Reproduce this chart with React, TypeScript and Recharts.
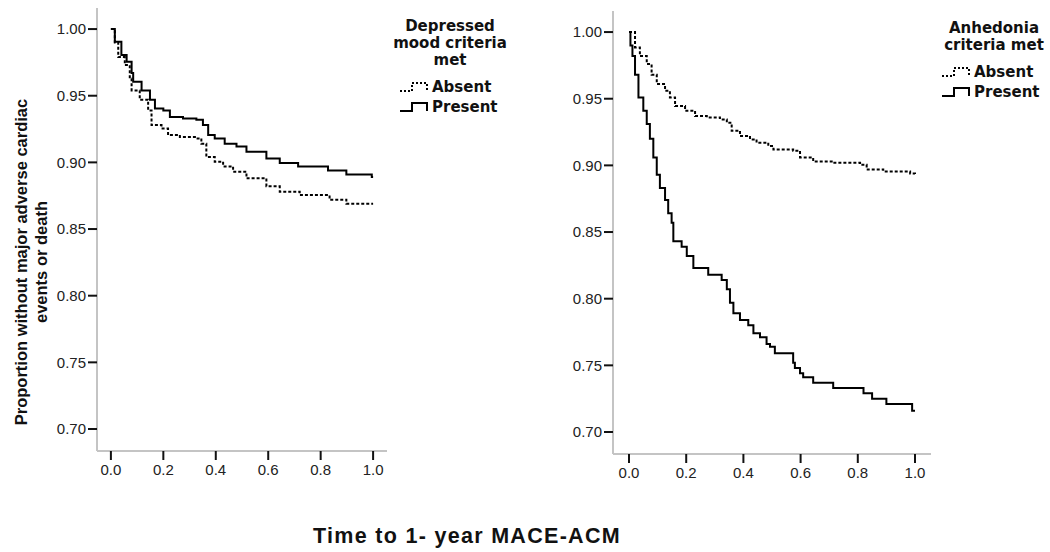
import React from "react";
import { LineChart, Line, XAxis, YAxis } from "recharts";

// ---- Data ----
const xTicks = [0, 0.2, 0.4, 0.6, 0.8, 1.0];
const yTicks = [0.7, 0.75, 0.8, 0.85, 0.9, 0.95, 1.0];

const leftTitle = ["Depressed", "mood criteria", "met"];
const rightTitle = ["Anhedonia", "criteria met"];
const groupLabels = ["Absent", "Present"];

const leftAbsentT = [0, 0.015, 0.028, 0.053, 0.072, 0.079, 0.11, 0.142, 0.155, 0.193, 0.218, 0.263, 0.326, 0.345, 0.364, 0.396, 0.428, 0.466, 0.517, 0.593, 0.644, 0.72, 0.834, 0.898, 1.0];
const leftAbsentV = [1.0, 0.99, 0.979, 0.973, 0.963, 0.954, 0.947, 0.939, 0.928, 0.9255, 0.9205, 0.919, 0.918, 0.914, 0.904, 0.9005, 0.897, 0.893, 0.888, 0.882, 0.878, 0.8755, 0.872, 0.869, 0.869];

const leftPresentT = [0, 0.015, 0.04, 0.06, 0.079, 0.085, 0.117, 0.149, 0.168, 0.2, 0.225, 0.275, 0.326, 0.351, 0.371, 0.396, 0.434, 0.479, 0.517, 0.593, 0.644, 0.714, 0.828, 0.898, 0.995, 1.0];
const leftPresentV = [1.0, 0.9905, 0.9805, 0.9755, 0.967, 0.9605, 0.954, 0.947, 0.9405, 0.939, 0.934, 0.933, 0.932, 0.928, 0.9205, 0.918, 0.914, 0.912, 0.908, 0.903, 0.8995, 0.897, 0.894, 0.891, 0.889, 0.889];

const rightAbsentT = [0, 0.021, 0.038, 0.062, 0.079, 0.097, 0.126, 0.143, 0.161, 0.196, 0.231, 0.272, 0.318, 0.342, 0.359, 0.388, 0.423, 0.446, 0.487, 0.505, 0.574, 0.598, 0.644, 0.714, 0.808, 0.831, 0.889, 0.983, 1.0];
const rightAbsentV = [1.0, 0.9885, 0.982, 0.976, 0.968, 0.961, 0.956, 0.951, 0.9445, 0.941, 0.937, 0.936, 0.9345, 0.932, 0.926, 0.922, 0.9195, 0.917, 0.9145, 0.912, 0.911, 0.906, 0.903, 0.902, 0.9005, 0.897, 0.8955, 0.894, 0.893];

const rightPresentT = [0, 0.005, 0.012, 0.021, 0.033, 0.05, 0.062, 0.073, 0.085, 0.097, 0.108, 0.126, 0.137, 0.149, 0.155, 0.184, 0.202, 0.225, 0.277, 0.324, 0.342, 0.353, 0.365, 0.388, 0.417, 0.435, 0.458, 0.481, 0.493, 0.51, 0.574, 0.58, 0.598, 0.609, 0.644, 0.714, 0.82, 0.85, 0.9, 0.99, 1.0];
const rightPresentV = [1.0, 0.99, 0.982, 0.968, 0.951, 0.941, 0.931, 0.92, 0.906, 0.893, 0.883, 0.874, 0.864, 0.857, 0.843, 0.839, 0.832, 0.823, 0.818, 0.814, 0.807, 0.797, 0.789, 0.784, 0.78, 0.774, 0.771, 0.766, 0.764, 0.759, 0.752, 0.748, 0.744, 0.741, 0.737, 0.733, 0.729, 0.725, 0.721, 0.716, 0.716];

const toRows = (ts: number[], vs: number[]) => ts.map((t, i) => ({ t, v: vs[i] }));

const Y_DOMAIN: [number, number] = [0.6835, 1.0158];

const tickStyle = { fill: "#222", fontSize: 15, fontFamily: "'Liberation Sans', Arial, sans-serif" };
const axisLineStyle = { stroke: "#c4c4c4", strokeWidth: 2 };
const tickLineStyle = { stroke: "#111", strokeWidth: 2 };

function KMChart({
  absent,
  present,
  width,
  margin,
  xDomain,
}: {
  absent: { t: number; v: number }[];
  present: { t: number; v: number }[];
  width: number;
  margin: { top: number; right: number; bottom: number; left: number };
  xDomain: [number, number];
}) {
  return (
    <LineChart width={width} height={490} margin={margin}>
      <XAxis
        type="number"
        dataKey="t"
        domain={xDomain}
        allowDataOverflow
        ticks={xTicks}
        tickFormatter={(v: number) => v.toFixed(1)}
        tick={tickStyle}
        tickSize={9}
        tickMargin={4}
        axisLine={axisLineStyle}
        tickLine={tickLineStyle}
        height={30}
      />
      <YAxis
        type="number"
        dataKey="v"
        domain={Y_DOMAIN}
        allowDataOverflow
        ticks={yTicks}
        tickFormatter={(v: number) => v.toFixed(2)}
        tick={tickStyle}
        tickSize={9}
        tickMargin={2}
        axisLine={axisLineStyle}
        tickLine={tickLineStyle}
        width={60}
      />
      <Line
        data={absent}
        dataKey="v"
        type="stepAfter"
        stroke="#000"
        strokeWidth={2}
        strokeDasharray="3 2"
        dot={false}
        isAnimationActive={false}
      />
      <Line
        data={present}
        dataKey="v"
        type="stepAfter"
        stroke="#000"
        strokeWidth={2}
        dot={false}
        isAnimationActive={false}
      />
    </LineChart>
  );
}

const legendFont = "'DejaVu Sans', Verdana, sans-serif";

function StepIcon({ dashed }: { dashed: boolean }) {
  return (
    <svg width={32} height={12} style={{ display: "block" }}>
      <path
        d="M1,10 H13 V2 H28 V10"
        fill="none"
        stroke="#000"
        strokeWidth={2}
        strokeDasharray={dashed ? "2 2" : undefined}
      />
    </svg>
  );
}

function KMLegend({
  title,
  left,
  top,
  centerX,
  rowsTop,
}: {
  title: string[];
  left: number;
  top: number;
  centerX: number;
  rowsTop: number;
}) {
  return (
    <>
      <div
        style={{
          position: "absolute",
          left: centerX - 80,
          width: 160,
          top,
          textAlign: "center",
          fontFamily: legendFont,
          fontWeight: "bold",
          fontSize: 15,
          lineHeight: "17px",
          color: "#111",
        }}
      >
        {title.map((s) => (
          <div key={s}>{s}</div>
        ))}
      </div>
      <div style={{ position: "absolute", left, top: rowsTop }}>
        {groupLabels.map((g, i) => (
          <div
            key={g}
            style={{
              display: "flex",
              alignItems: "center",
              height: 20,
              fontFamily: legendFont,
              fontWeight: "bold",
              fontSize: 15,
              color: "#111",
            }}
          >
            <StepIcon dashed={i === 0} />
            <span style={{ marginLeft: 1 }}>{g}</span>
          </div>
        ))}
      </div>
    </>
  );
}

export default function App() {
  return (
    <div
      style={{
        position: "absolute",
        left: 0,
        top: 0,
        width: 1050,
        height: 552,
        background: "#fff",
        overflow: "hidden",
      }}
    >
      <div style={{ position: "absolute", left: 0, top: 0 }}>
        <KMChart
          absent={toRows(leftAbsentT, leftAbsentV)}
          present={toRows(leftPresentT, leftPresentV)}
          width={400}
          margin={{ top: 8, right: 13, bottom: 9, left: 37 }}
          xDomain={[-0.053, 1.053]}
        />
      </div>
      <div style={{ position: "absolute", left: 520, top: 3 }}>
        <KMChart
          absent={toRows(rightAbsentT, rightAbsentV)}
          present={toRows(rightPresentT, rightPresentV)}
          width={420}
          margin={{ top: 8, right: 9, bottom: 9, left: 33 }}
          xDomain={[-0.056, 1.056]}
        />
      </div>

      <KMLegend title={leftTitle} left={399} top={18} centerX={450} rowsTop={77} />
      <KMLegend title={rightTitle} left={941} top={20} centerX={994} rowsTop={62} />

      <div
        style={{
          position: "absolute",
          left: 31 - 200,
          top: 262 - 20,
          width: 400,
          height: 40,
          transform: "rotate(-90deg)",
          textAlign: "center",
          fontFamily: "'Liberation Sans', Arial, sans-serif",
          fontWeight: "bold",
          fontSize: 16.5,
          lineHeight: "20px",
          color: "#111",
        }}
      >
        <div>Proportion without major adverse cardiac</div>
        <div>events or death</div>
      </div>

      <div
        style={{
          position: "absolute",
          left: 0,
          width: 934,
          top: 524,
          textAlign: "center",
          fontFamily: "'Liberation Sans', Arial, sans-serif",
          fontWeight: "bold",
          fontSize: 21.5,
          letterSpacing: 1.3,
          lineHeight: "24px",
          color: "#111",
        }}
      >
        Time to 1- year MACE-ACM
      </div>
    </div>
  );
}
